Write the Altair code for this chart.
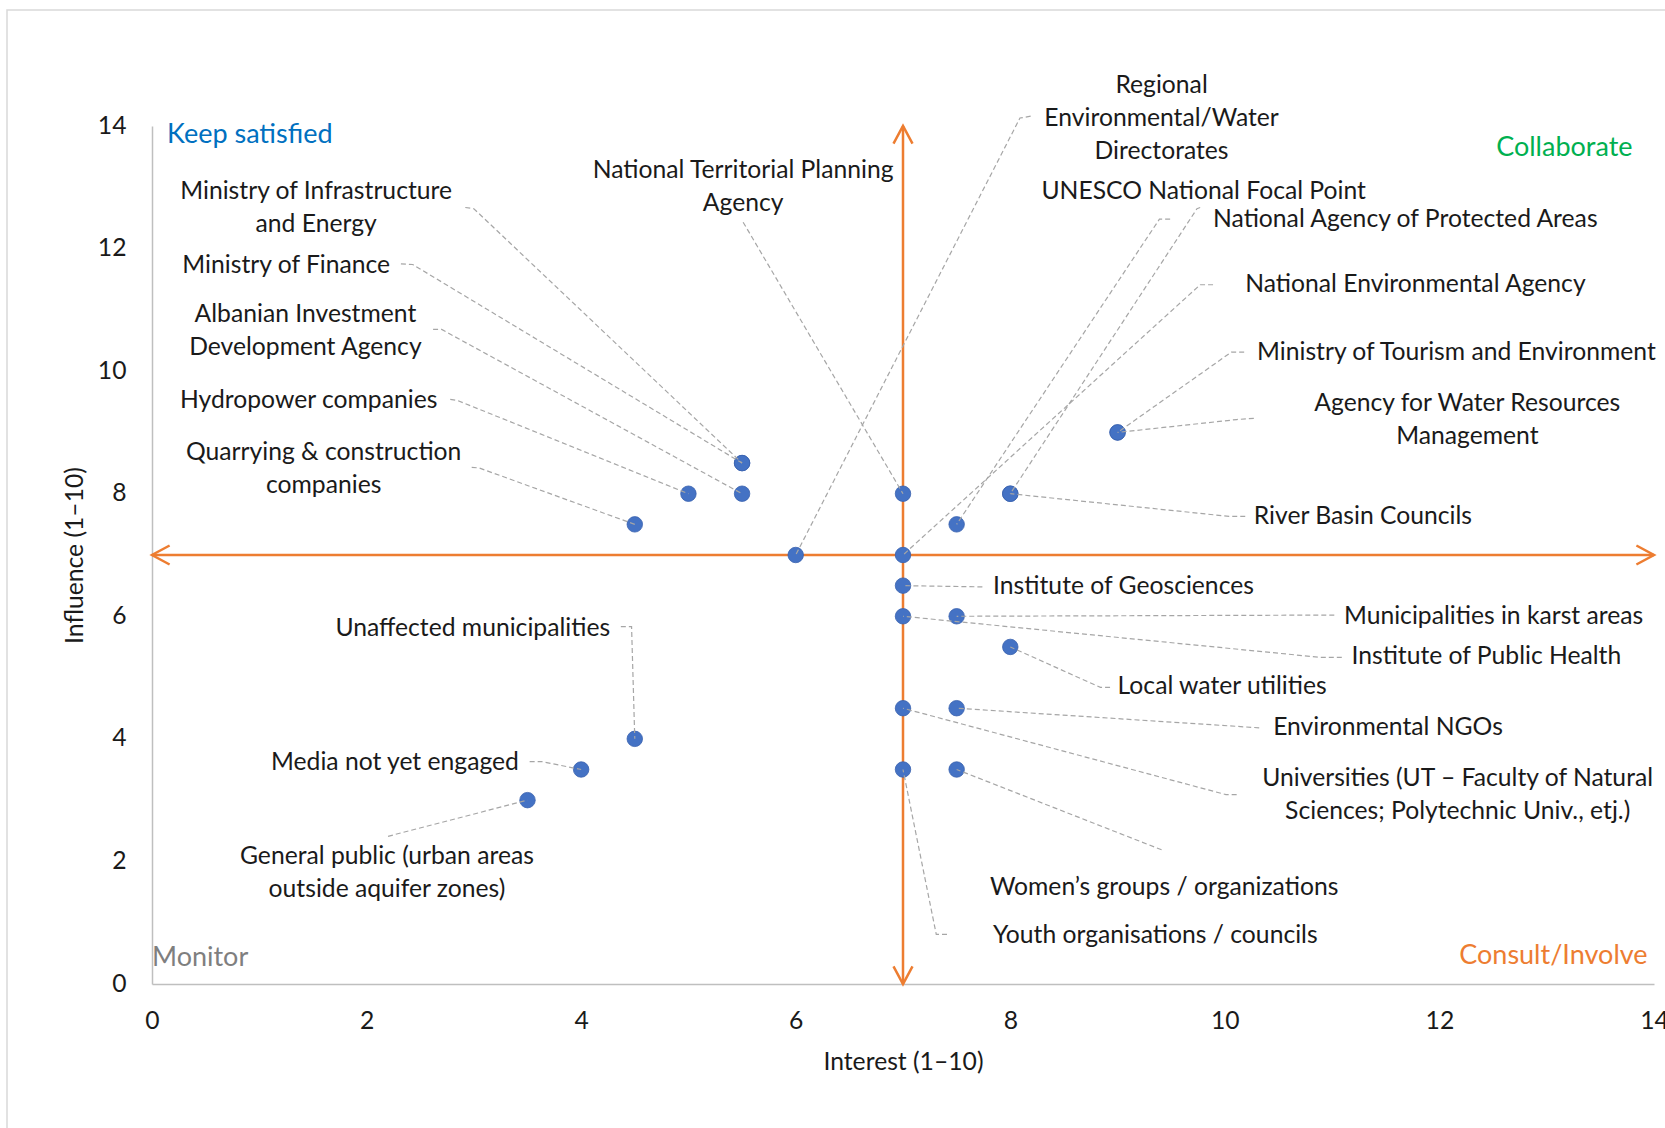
import altair as alt
import pandas as pd

# ---- stakeholder scores -------------------------------------------------
stakeholders = [
    "Ministry of Infrastructure and Energy",
    "Ministry of Finance",
    "Albanian Investment Development Agency",
    "Hydropower companies",
    "Quarrying & construction companies",
    "National Territorial Planning Agency",
    "Regional Environmental/Water Directorates",
    "UNESCO National Focal Point",
    "National Agency of Protected Areas",
    "National Environmental Agency",
    "Ministry of Tourism and Environment",
    "Agency for Water Resources Management",
    "River Basin Councils",
    "Institute of Geosciences",
    "Municipalities in karst areas",
    "Institute of Public Health",
    "Local water utilities",
    "Environmental NGOs",
    "Universities (UT – Faculty of Natural Sciences; Polytechnic Univ., etj.)",
    "Women’s groups / organizations",
    "Youth organisations / councils",
    "Unaffected municipalities",
    "Media not yet engaged",
    "General public (urban areas outside aquifer zones)",
]
interest = [5.5, 5.5, 5.5, 5.0, 4.5, 7.0, 6.0, 7.5, 8.0, 7.0, 9.0, 9.0, 8.0,
            7.0, 7.5, 7.0, 8.0, 7.5, 7.0, 7.5, 7.0, 4.5, 4.0, 3.5]
influence = [8.5, 8.5, 8.0, 8.0, 7.5, 8.0, 7.0, 7.5, 8.0, 7.0, 9.0, 9.0, 8.0,
             6.5, 6.0, 6.0, 5.5, 4.5, 4.5, 3.5, 3.5, 4.0, 3.5, 3.0]

quadrants = ["Keep satisfied", "Collaborate", "Monitor", "Consult/Involve"]
quadrant_colors = ["#0070C0", "#00B050", "#7F7F7F", "#ED7D31"]

# ---- label placement (axis units): text, x, y of first line, align,
#      leader start, leader elbow
label_layout = {
    "Ministry of Infrastructure and Energy": ("Ministry of Infrastructure\nand Energy", 1.53, 12.92, "center", (2.92, 12.67), (3.00, 12.65)),
    "Ministry of Finance": ("Ministry of Finance", 2.22, 11.72, "right", (2.32, 11.75), (2.43, 11.74)),
    "Albanian Investment Development Agency": ("Albanian Investment\nDevelopment Agency", 1.43, 10.92, "center", (2.62, 10.68), (2.70, 10.68)),
    "Hydropower companies": ("Hydropower companies", 2.66, 9.52, "right", (2.78, 9.54), (2.85, 9.52)),
    "Quarrying & construction companies": ("Quarrying & construction\ncompanies", 1.60, 8.66, "center", (2.98, 8.43), (3.05, 8.42)),
    "National Territorial Planning Agency": ("National Territorial Planning\nAgency", 5.51, 13.26, "center", (5.51, 12.43), (5.51, 12.43)),
    "Regional Environmental/Water Directorates": ("Regional\nEnvironmental/Water\nDirectorates", 9.41, 14.65, "center", (8.19, 14.16), (8.09, 14.13)),
    "UNESCO National Focal Point": ("UNESCO National Focal Point", 8.29, 12.93, "left", (9.49, 12.48), (9.39, 12.48)),
    "National Agency of Protected Areas": ("National Agency of Protected Areas", 9.89, 12.47, "left", (9.77, 12.67), (9.74, 12.65)),
    "National Environmental Agency": ("National Environmental Agency", 10.19, 11.41, "left", (9.89, 11.41), (9.77, 11.41)),
    "Ministry of Tourism and Environment": ("Ministry of Tourism and Environment", 10.30, 10.30, "left", (10.18, 10.31), (10.06, 10.31)),
    "Agency for Water Resources Management": ("Agency for Water Resources\nManagement", 12.26, 9.47, "center", (10.27, 9.23), (10.11, 9.21)),
    "River Basin Councils": ("River Basin Councils", 10.27, 7.62, "left", (10.19, 7.63), (10.04, 7.63)),
    "Institute of Geosciences": ("Institute of Geosciences", 7.84, 6.48, "left", (7.74, 6.48), (7.74, 6.48)),
    "Municipalities in karst areas": ("Municipalities in karst areas", 11.11, 5.99, "left", (11.02, 6.02), (11.02, 6.02)),
    "Institute of Public Health": ("Institute of Public Health", 11.18, 5.33, "left", (11.09, 5.33), (10.89, 5.33)),
    "Local water utilities": ("Local water utilities", 9.00, 4.84, "left", (8.93, 4.84), (8.84, 4.84)),
    "Environmental NGOs": ("Environmental NGOs", 10.45, 4.18, "left", (10.32, 4.18), (10.32, 4.18)),
    "Universities (UT – Faculty of Natural Sciences; Polytechnic Univ., etj.)": ("Universities (UT – Faculty of Natural\nSciences; Polytechnic Univ., etj.)", 12.17, 3.35, "center", (10.11, 3.09), (10.01, 3.09)),
    "Women’s groups / organizations": ("Women’s groups / organizations", 7.81, 1.57, "left", (9.41, 2.19), (9.41, 2.19)),
    "Youth organisations / councils": ("Youth organisations / councils", 7.84, 0.79, "left", (7.41, 0.81), (7.31, 0.81)),
    "Unaffected municipalities": ("Unaffected municipalities", 4.27, 5.80, "right", (4.37, 5.83), (4.47, 5.83)),
    "Media not yet engaged": ("Media not yet engaged", 3.42, 3.60, "right", (3.52, 3.63), (3.63, 3.63)),
    "General public (urban areas outside aquifer zones)": ("General public (urban areas\noutside aquifer zones)", 2.19, 2.07, "center", (2.20, 2.41), (2.20, 2.41)),
}

# quadrant caption placement: x, y, align
quadrant_layout = [(0.14, 13.85, "left"), (13.80, 13.64, "right"),
                   (0.00, 0.43, "left"), (13.94, 0.46, "right")]

FONT = "Lato"
INK = "#1a1a1a"
ORANGE = "#ED7D31"
FS = 24.7
W, H = 1502, 858

# ---- tables ---------------------------------------------------------------
points = pd.DataFrame({"name": stakeholders, "x": interest, "y": influence})

label_rows, leader_rows = [], []
for name, ix, iy in zip(stakeholders, interest, influence):
    text, lx, ly, align, start, elbow = label_layout[name]
    label_rows.append({"name": name, "text": text, "x": lx, "y": ly, "align": align})
    for k, (px, py) in enumerate([start, elbow, (ix, iy)]):
        leader_rows.append({"name": name, "k": k, "x": px, "y": py})
labels = pd.DataFrame(label_rows)
leaders = pd.DataFrame(leader_rows)

quad = pd.DataFrame({
    "text": quadrants, "color": quadrant_colors,
    "x": [q[0] for q in quadrant_layout], "y": [q[1] for q in quadrant_layout],
    "align": [q[2] for q in quadrant_layout],
})

cross = pd.DataFrame({"x": [0, 7], "x2": [14, 7], "y": [7, 0], "y2": [7, 14]})
heads = pd.DataFrame({"x": [0, 14, 7, 7], "y": [7, 7, 14, 0],
                      "dir": ["left", "right", "up", "down"]})
head_paths = ["M1,-0.54L0,0L1,0.54", "M-1,-0.54L0,0L-1,0.54",
              "M-0.54,1L0,0L0.54,1", "M-0.54,-1L0,0L0.54,-1"]

# ---- scales & axes ---------------------------------------------------------
xs = alt.Scale(domain=[0, 14], nice=False, zero=False)
ys = alt.Scale(domain=[0, 14], nice=False, zero=False)
common_axis = dict(grid=False, ticks=False, domainColor="#BFBFBF", domainWidth=1.5,
                   labelFont=FONT, labelFontSize=FS, labelColor=INK,
                   labelFlush=False, labelOverlap=False,
                   titleFont=FONT, titleFontSize=FS, titleFontWeight="normal",
                   titleColor=INK, values=list(range(0, 15, 2)))
x_axis = alt.Axis(title="Interest (1–10)", labelPadding=24, titlePadding=17, **common_axis)
y_axis = alt.Axis(title="Influence (1–10)", labelPadding=26, titlePadding=10, **common_axis)


def X(field="x"):
    return alt.X(f"{field}:Q", scale=xs, axis=x_axis)


def Y(field="y"):
    return alt.Y(f"{field}:Q", scale=ys, axis=y_axis)


frame = alt.Chart(pd.DataFrame({"a": [0]})).mark_rect(
    filled=False, stroke="#D9D9D9", strokeWidth=1.5
).encode(x=alt.value(-145), x2=alt.value(W + 60), y=alt.value(-116), y2=alt.value(H + 300))

cross_lines = alt.Chart(cross).mark_rule(color=ORANGE, strokeWidth=2.5).encode(
    x=X(), x2="x2:Q", y=Y(), y2="y2:Q")

arrow_heads = alt.Chart(heads).mark_point(
    filled=False, color=ORANGE, strokeWidth=2.5, opacity=1, size=1239
).encode(x=X(), y=Y(),
         shape=alt.Shape("dir:N", scale=alt.Scale(domain=["left", "right", "up", "down"],
                                                   range=head_paths), legend=None))

dots = alt.Chart(points).mark_circle(
    size=240, color="#4472C4", opacity=1, stroke="#3A62AE", strokeWidth=0.8
).encode(x=X(), y=Y())

leader_lines = alt.Chart(leaders).mark_line(
    color="#A6A6A6", strokeWidth=1.2, strokeDash=[5, 3]
).encode(x=X(), y=Y(), detail="name:N", order="k:Q")

text_layers = []
for al in ["left", "center", "right"]:
    text_layers.append(
        alt.Chart(labels[labels["align"] == al]).mark_text(
            align=al, baseline="middle", font=FONT, fontSize=FS, color=INK,
            lineBreak="\n", lineHeight=33
        ).encode(x=X(), y=Y(), text="text:N")
    )

quad_layers = []
for al in ["left", "right"]:
    quad_layers.append(
        alt.Chart(quad[quad["align"] == al]).mark_text(
            align=al, baseline="middle", font=FONT, fontSize=27
        ).encode(x=X(), y=Y(), text="text:N", color=alt.Color("color:N", scale=None))
    )

chart = alt.layer(
    frame, cross_lines, arrow_heads, dots, leader_lines, *text_layers, *quad_layers
).properties(
    width=W, height=H,
    autosize=alt.AutoSizeParams(type="none"),
    padding={"left": 152, "top": 126, "right": 11, "bottom": 144},
    background="white",
).configure_view(strokeWidth=0)

chart.save("out.html", embed_options={"renderer": "svg", "actions": False})
